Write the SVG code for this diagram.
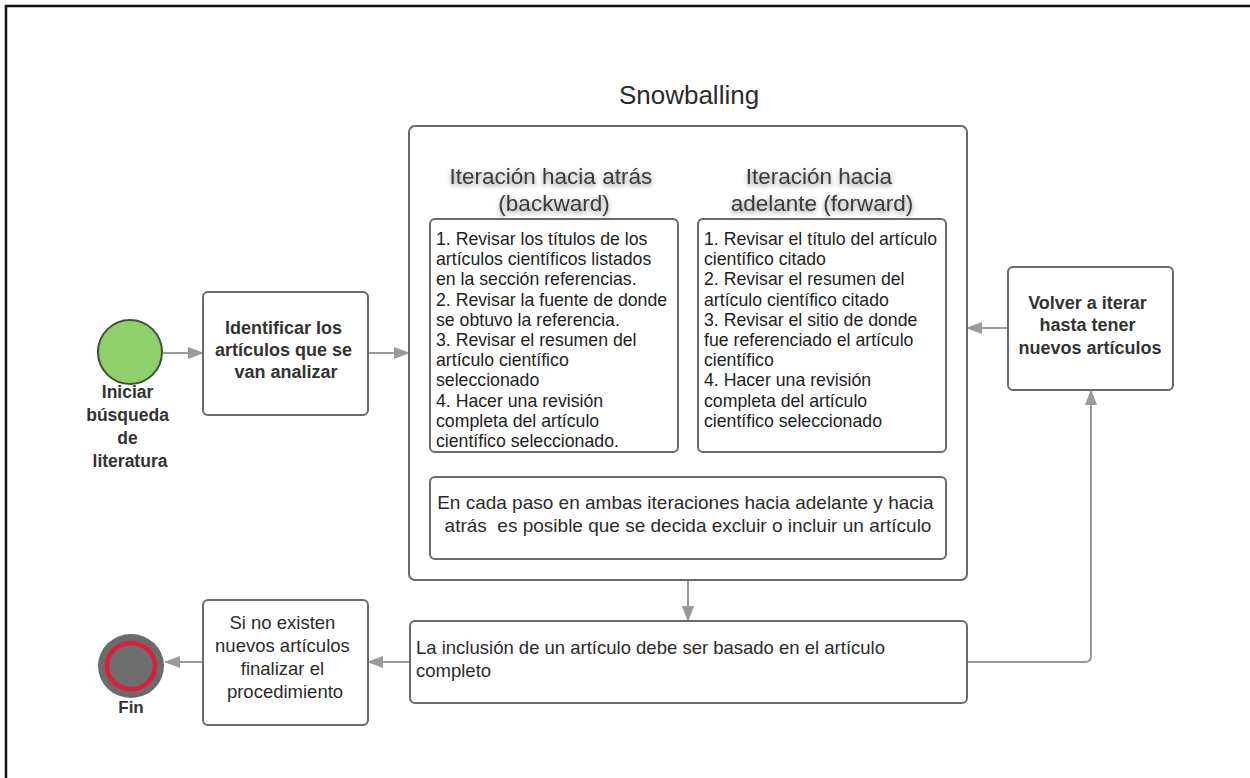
<svg xmlns="http://www.w3.org/2000/svg" width="1250" height="778" viewBox="0 0 1250 778">
  <style>
    .box { fill: #ffffff; stroke: #6a6a6a; stroke-width: 2; }
    .conn { fill: none; stroke: #9a9a9a; stroke-width: 2; }
    .t { font-family: "Liberation Sans", Arial, sans-serif; fill: #2b2b2b; }
    .b { font-weight: bold; fill: #333333; }
    .n { font-size: 18.5px; }
    .list { font-size: 17.7px; fill: #1e1e1e; }
    .head { font-size: 22.5px; fill: #3a3a3a; }
    .mid { text-anchor: middle; }
  </style>
  <defs>
    <marker id="arrow" markerWidth="16" markerHeight="12" refX="15" refY="6" orient="auto" markerUnits="userSpaceOnUse">
      <path d="M0,0 L16,6 L0,12 Z" fill="#9a9a9a"/>
    </marker>
    <filter id="soft" x="-10%" y="-30%" width="120%" height="170%">
      <feGaussianBlur in="SourceAlpha" stdDeviation="2.5"/>
      <feOffset dx="0" dy="2" result="b"/>
      <feFlood flood-color="#000000" flood-opacity="0.45"/>
      <feComposite in2="b" operator="in" result="s"/>
      <feMerge>
        <feMergeNode in="s"/>
        <feMergeNode in="SourceGraphic"/>
      </feMerge>
    </filter>
  </defs>

  <rect x="0" y="0" width="1250" height="778" fill="#ffffff"/>
  <!-- page frame -->
  <path d="M6,778 L6,6 L1250,6" fill="none" stroke="#111111" stroke-width="2.5"/>

  <text class="t mid" x="689" y="104" font-size="26" fill="#333333">Snowballing</text>

  <!-- connectors -->
  <g id="connectors">
    <line class="conn" x1="163" y1="353" x2="203" y2="353" marker-end="url(#arrow)"/>
    <line class="conn" x1="368" y1="353" x2="409" y2="353" marker-end="url(#arrow)"/>
    <line class="conn" x1="1008" y1="328" x2="967" y2="328" marker-end="url(#arrow)"/>
    <line class="conn" x1="688" y1="580" x2="688" y2="621" marker-end="url(#arrow)"/>
    <path class="conn" d="M967,662 L1085,662 Q1091,662 1091,656 L1091,390" marker-end="url(#arrow)"/>
    <line class="conn" x1="410" y1="662" x2="368" y2="662" marker-end="url(#arrow)"/>
    <line class="conn" x1="203" y1="662" x2="165" y2="662" marker-end="url(#arrow)"/>
  </g>

  <!-- start event -->
  <g id="start">
    <circle cx="130" cy="352" r="32" fill="#8fcf6c" stroke="#3f5136" stroke-width="2"/>
    <text class="t b mid" font-size="17.5">
      <tspan x="130" y="398">Iniciar</tspan>
      <tspan x="130" y="421">búsqueda</tspan>
      <tspan x="130" y="444">de</tspan>
      <tspan x="130" y="467">literatura</tspan>
    </text>
  </g>

  <g id="identificar">
    <rect class="box" x="203" y="292" width="165" height="123" rx="5"/>
    <text class="t b mid" font-size="18">
      <tspan x="286" y="334">Identificar los</tspan>
      <tspan x="286" y="356">artículos que se</tspan>
      <tspan x="286" y="378">van analizar</tspan>
    </text>
  </g>

  <!-- snowballing container -->
  <g id="snowballing">
    <rect class="box" x="409" y="126" width="558" height="454" rx="6"/>
  </g>

  <g id="backward">
    <text class="t head mid" filter="url(#soft)">
      <tspan x="554" y="184">Iteración hacia atrás</tspan>
      <tspan x="554" y="211">(backward)</tspan>
    </text>
    <rect class="box" x="430" y="219" width="248" height="233" rx="5"/>
    <text class="t list">
      <tspan x="436" y="245">1. Revisar los títulos de los</tspan>
      <tspan x="436" y="265.2">artículos científicos listados</tspan>
      <tspan x="436" y="285.4">en la sección referencias.</tspan>
      <tspan x="436" y="305.6">2. Revisar la fuente de donde</tspan>
      <tspan x="436" y="325.8">se obtuvo la referencia.</tspan>
      <tspan x="436" y="346">3. Revisar el resumen del</tspan>
      <tspan x="436" y="366.2">artículo científico</tspan>
      <tspan x="436" y="386.4">seleccionado</tspan>
      <tspan x="436" y="406.6">4. Hacer una revisión</tspan>
      <tspan x="436" y="426.8">completa del artículo</tspan>
      <tspan x="436" y="447">científico seleccionado.</tspan>
    </text>
  </g>

  <g id="forward">
    <text class="t head mid" filter="url(#soft)">
      <tspan x="822" y="184">Iteración hacia</tspan>
      <tspan x="822" y="211">adelante (forward)</tspan>
    </text>
    <rect class="box" x="698" y="219" width="248" height="233" rx="5"/>
    <text class="t list">
      <tspan x="704" y="245">1. Revisar el título del artículo</tspan>
      <tspan x="704" y="265.2">científico citado</tspan>
      <tspan x="704" y="285.4">2. Revisar el resumen del</tspan>
      <tspan x="704" y="305.6">artículo científico citado</tspan>
      <tspan x="704" y="325.8">3. Revisar el sitio de donde</tspan>
      <tspan x="704" y="346">fue referenciado el artículo</tspan>
      <tspan x="704" y="366.2">científico</tspan>
      <tspan x="704" y="386.4">4. Hacer una revisión</tspan>
      <tspan x="704" y="406.6">completa del artículo</tspan>
      <tspan x="704" y="426.8">científico seleccionado</tspan>
    </text>
  </g>

  <g id="nota">
    <rect class="box" x="430" y="477" width="516" height="82" rx="5"/>
    <text class="t mid" font-size="19" fill="#333333">
      <tspan x="688" y="509">En cada paso en ambas iteraciones hacia adelante y hacia</tspan>
      <tspan x="688" y="532" xml:space="preserve">atrás  es posible que se decida excluir o incluir un artículo</tspan>
    </text>
  </g>

  <g id="volver">
    <rect class="box" x="1008" y="267" width="165" height="123" rx="5"/>
    <text class="t b mid" font-size="18">
      <tspan x="1090" y="309">Volver a iterar</tspan>
      <tspan x="1090" y="331">hasta tener</tspan>
      <tspan x="1090" y="354">nuevos artículos</tspan>
    </text>
  </g>

  <g id="inclusion">
    <rect class="box" x="410" y="621" width="557" height="82" rx="5"/>
    <text class="t n" fill="#333333">
      <tspan x="416" y="654">La inclusión de un artículo debe ser basado en el artículo</tspan>
      <tspan x="416" y="677">completo</tspan>
    </text>
  </g>

  <g id="finalizar">
    <rect class="box" x="203" y="600" width="165" height="125" rx="5"/>
    <text class="t n mid" fill="#333333">
      <tspan x="285" y="629">Si no existen</tspan>
      <tspan x="285" y="652">nuevos artículos</tspan>
      <tspan x="285" y="675">finalizar el</tspan>
      <tspan x="285" y="698">procedimiento</tspan>
    </text>
  </g>

  <!-- end event -->
  <g id="fin">
    <ellipse cx="131" cy="666" rx="33" ry="32" fill="#6b6b6b"/>
    <ellipse cx="131" cy="666" rx="24" ry="23" fill="#6e6e6e" stroke="#d8203a" stroke-width="4.5"/>
    <text class="t b mid" x="131" y="713" font-size="17">Fin</text>
  </g>
</svg>
